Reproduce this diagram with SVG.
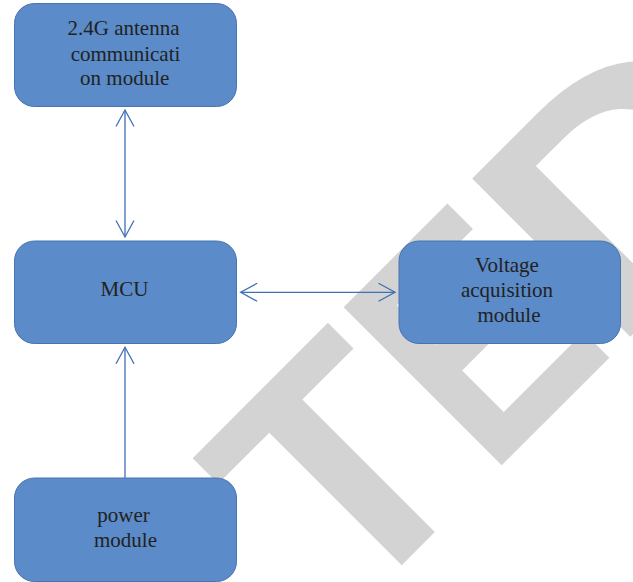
<svg xmlns="http://www.w3.org/2000/svg" width="633" height="582" viewBox="0 0 633 582">
  <style>
    .box { fill: #5b8bc8; stroke: #4674b0; stroke-width: 1; }
    .lbl { font-family: "Liberation Serif", "Times New Roman", serif; font-size: 21px; fill: #222222; text-anchor: middle; }
    .link { fill: none; stroke: #3f6fb5; stroke-width: 1.3; }
    .stamp { font-family: "Liberation Sans", Arial, sans-serif; font-weight: bold; font-size: 325px; fill: #d3d3d3; }
  </style>
  <defs>
    <marker id="chev" viewBox="-18 -11 20 22" markerWidth="20" markerHeight="22" refX="0" refY="0" markerUnits="userSpaceOnUse" orient="auto-start-reverse">
      <path d="M -16.5 -9 L 0 0 L -16.5 9" fill="none" stroke="#3f6fb5" stroke-width="1.3"/>
    </marker>
  </defs>

  <rect width="633" height="582" fill="#ffffff"/>

  <!-- diagonal stamp behind the diagram -->
  <g id="stamp" transform="translate(503 464) rotate(-45)">
    <text class="stamp" x="-1573" y="0">RETRAC<tspan x="-219">T</tspan><tspan x="-20" textLength="181" lengthAdjust="spacingAndGlyphs">E</tspan><tspan x="155" textLength="270" lengthAdjust="spacingAndGlyphs">D</tspan></text>
  </g>

  <!-- connectors -->
  <g id="connectors">
    <line class="link" x1="125" y1="110" x2="125" y2="237" marker-start="url(#chev)" marker-end="url(#chev)"/>
    <line class="link" x1="240.7" y1="292.3" x2="395" y2="292.3" marker-start="url(#chev)" marker-end="url(#chev)"/>
    <line class="link" x1="125" y1="478" x2="125" y2="347.3" marker-end="url(#chev)"/>
  </g>

  <g id="antenna">
    <rect class="box" x="14.5" y="3.5" width="222" height="103" rx="20" ry="20"/>
    <text class="lbl" x="123.5" y="35.3">2.4G antenna</text>
    <text class="lbl" x="125.5" y="60.7">communicati</text>
    <text class="lbl" x="124.7" y="85">on module</text>
  </g>

  <g id="mcu">
    <rect class="box" x="14.5" y="241" width="222" height="102.5" rx="20" ry="20"/>
    <text class="lbl" x="124.5" y="296">MCU</text>
  </g>

  <g id="voltage">
    <rect class="box" x="399" y="241" width="221.5" height="102.5" rx="20" ry="20"/>
    <text class="lbl" x="507" y="271.7">Voltage</text>
    <text class="lbl" x="507" y="296.5">acquisition</text>
    <text class="lbl" x="509" y="321.7">module</text>
  </g>

  <g id="power">
    <rect class="box" x="14.5" y="478" width="222" height="103.5" rx="20" ry="20"/>
    <text class="lbl" x="123.5" y="522.3">power</text>
    <text class="lbl" x="125.5" y="546.7">module</text>
  </g>
</svg>
